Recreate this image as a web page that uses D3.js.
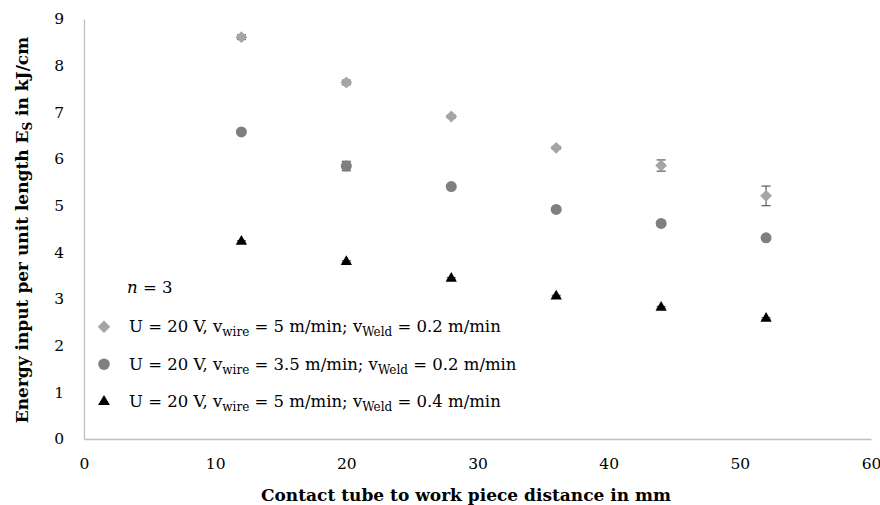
<!DOCTYPE html>
<html>
<head>
<meta charset="utf-8">
<script src="https://cdn.jsdelivr.net/npm/d3@7"></script>
<style>
  body { margin: 0; background: #fff; }
  svg { display: block; }
  text { font-family: "DejaVu Serif", "Liberation Serif", serif; fill: #000; }
</style>
</head>
<body>
<div id="chart"></div>
<script>
// distances in mm
var distances = [12, 20, 28, 36, 44, 52];

// energy input per unit length (kJ/cm) and std deviations
var wire5Weld02 = [8.61, 7.64, 6.91, 6.24, 5.86, 5.21];
var wire5Weld02Err = [0.05, 0.05, 0.03, 0.03, 0.12, 0.21];
var wire35Weld02 = [6.58, 5.85, 5.41, 4.92, 4.62, 4.31];
var wire35Weld02Err = [0.03, 0.1, 0.03, 0.03, 0.02, 0.02];
var wire5Weld04 = [4.23, 3.80, 3.44, 3.06, 2.82, 2.58];
var wire5Weld04Err = [0.02, 0.02, 0.02, 0.02, 0.02, 0.02];

var xTicks = [0, 10, 20, 30, 40, 50, 60];
var yTicks = [0, 1, 2, 3, 4, 5, 6, 7, 8, 9];

var width = 880, height = 505;
var margin = { top: 19, right: 9, bottom: 66, left: 84 };

var svg = d3.select('#chart')
  .append('svg')
  .attr('width', width)
  .attr('height', height);

var x = d3.scaleLinear().domain([0, 60]).range([margin.left, width - margin.right]);
var y = d3.scaleLinear().domain([0, 9]).range([height - margin.bottom, margin.top]);

// axes
var xAxis = svg.append('g')
  .attr('transform', 'translate(0,' + y(0) + ')')
  .call(d3.axisBottom(x).tickValues(xTicks).tickSize(0).tickPadding(19));
var yAxis = svg.append('g')
  .attr('transform', 'translate(' + x(0) + ',0)')
  .call(d3.axisLeft(y).tickValues(yTicks).tickSize(0).tickPadding(20));

[xAxis, yAxis].forEach(function(a) {
  a.select('.domain').attr('stroke', '#bfbfbf').attr('stroke-width', 1.3);
  a.selectAll('text')
    .style('font-family', '"DejaVu Serif", serif')
    .style('font-size', '15.5px')
    .attr('fill', '#000');
});

var squareDiamond = {
  draw: function(ctx, size) {
    var r = Math.sqrt(size / 2);
    ctx.moveTo(0, -r); ctx.lineTo(r, 0); ctx.lineTo(0, r); ctx.lineTo(-r, 0); ctx.closePath();
  }
};

// series definitions
var series = [
  { vals: wire5Weld02, err: wire5Weld02Err, shape: squareDiamond, size: 70, color: '#a5a5a5',
    wire: '5', weld: '0.2' },
  { vals: wire35Weld02, err: wire35Weld02Err, shape: d3.symbolCircle, size: 95, color: '#7f7f7f',
    wire: '3.5', weld: '0.2' },
  { vals: wire5Weld04, err: wire5Weld04Err, shape: d3.symbolTriangle, size: 55, color: '#000000',
    wire: '5', weld: '0.4' }
];

series.forEach(function(s) {
  var pts = distances.map(function(d, i) { return { x: d, v: s.vals[i], e: s.err[i] }; });
  var g = svg.append('g');

  // error bars
  var eb = g.selectAll('.err').data(pts).enter().append('g').attr('stroke', '#595959').attr('stroke-width', 1.2);
  eb.append('line')
    .attr('x1', function(d) { return x(d.x); })
    .attr('x2', function(d) { return x(d.x); })
    .attr('y1', function(d) { return y(d.v - d.e); })
    .attr('y2', function(d) { return y(d.v + d.e); });
  eb.append('line')
    .attr('x1', function(d) { return x(d.x) - 4.5; })
    .attr('x2', function(d) { return x(d.x) + 4.5; })
    .attr('y1', function(d) { return y(d.v - d.e); })
    .attr('y2', function(d) { return y(d.v - d.e); });
  eb.append('line')
    .attr('x1', function(d) { return x(d.x) - 4.5; })
    .attr('x2', function(d) { return x(d.x) + 4.5; })
    .attr('y1', function(d) { return y(d.v + d.e); })
    .attr('y2', function(d) { return y(d.v + d.e); });

  // markers
  g.selectAll('.mark').data(pts).enter().append('path')
    .attr('d', d3.symbol().type(s.shape).size(s.size))
    .attr('transform', function(d) { return 'translate(' + x(d.x) + ',' + y(d.v) + ')'; })
    .attr('fill', s.color);
});

// legend
var legend = svg.append('g');
legend.append('text')
  .attr('x', 127).attr('y', 293)
  .style('font-size', '16.5px')
  .html('<tspan font-style="italic">n</tspan> = 3');

series.forEach(function(s, i) {
  var cy = 326.7 + i * 37.5;
  legend.append('path')
    .attr('d', d3.symbol().type(s.shape).size(s.size * 1.1))
    .attr('transform', 'translate(104,' + cy + ')')
    .attr('fill', s.color);
  var t = legend.append('text')
    .attr('x', 129).attr('y', cy + 5.5)
    .style('font-size', '16.5px');
  t.append('tspan').text('U = 20 V, v');
  t.append('tspan').attr('dy', 4).style('font-size', '12px').text('wire');
  t.append('tspan').attr('dy', -4).text(' = ' + s.wire + ' m/min; v');
  t.append('tspan').attr('dy', 4).style('font-size', '12px').text('Weld');
  t.append('tspan').attr('dy', -4).text(' = ' + s.weld + ' m/min');
});

// axis titles
svg.append('text')
  .attr('x', 466).attr('y', 501)
  .attr('text-anchor', 'middle')
  .style('font-size', '17px')
  .style('font-weight', 'bold')
  .text('Contact tube to work piece distance in mm');

var yt = svg.append('text')
  .attr('transform', 'translate(28,230) rotate(-90)')
  .attr('text-anchor', 'middle')
  .style('font-size', '17px')
  .style('font-weight', 'bold');
yt.append('tspan').text('Energy input per unit length E');
yt.append('tspan').attr('dy', 4).style('font-size', '12px').text('S');
yt.append('tspan').attr('dy', -4).text(' in kJ/cm');
</script>
</body>
</html>
